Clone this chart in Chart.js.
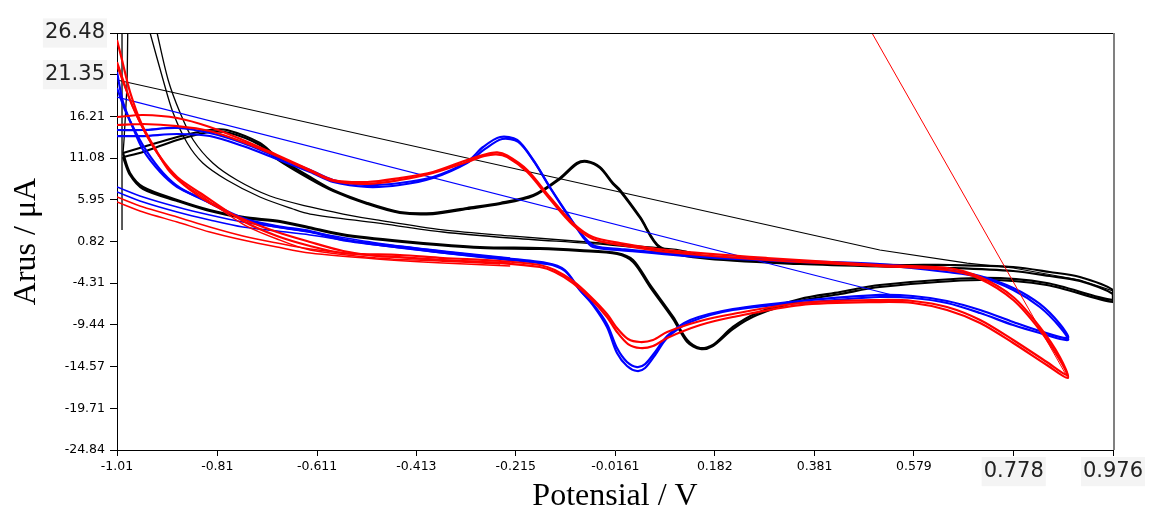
<!doctype html>
<html lang="en">
  <head>
    <meta charset="UTF-8" />
    <title>Voltamogram</title>
    <script src="https://cdn.jsdelivr.net/npm/chart.js"></script>
    <style>
      body { margin: 0; background: #fff; }
    </style>
  </head>
  <body>
    <canvas id="cvChart" width="1156" height="513"></canvas>

    <script>
      // sumbu
      const xTickValues = [-1.01, -0.81, -0.611, -0.413, -0.215, -0.0161, 0.182, 0.381, 0.579, 0.778, 0.976];
      const xTickLabels = ["-1.01", "-0.81", "-0.611", "-0.413", "-0.215", "-0.0161", "0.182", "0.381", "0.579", "0.778", "0.976"];
      const yTickValues = [-24.84, -19.71, -14.57, -9.44, -4.31, 0.82, 5.95, 11.08, 16.21, 21.35, 26.48];
      const yTickLabels = ["-24.84", "-19.71", "-14.57", "-9.44", "-4.31", "0.82", "5.95", "11.08", "16.21", "21.35", "26.48"];

      // elektroda merah
      const redCycle1 = [
        [-1.010, 25.62], [-1.000, 23.16], [-0.984, 19.22], [-0.960, 15.16], [-0.930, 11.84], [-0.904, 9.37],
        [-0.864, 7.16], [-0.825, 5.56], [-0.759, 3.59], [-0.691, 1.99], [-0.625, 0.76], [-0.559, -0.35],
        [-0.492, -0.96], [-0.446, -1.09], [-0.360, -1.46], [-0.246, -1.83], [-0.167, -2.32], [-0.137, -2.93],
        [-0.101, -4.29], [-0.067, -6.13], [-0.033, -8.47], [-0.013, -10.32], [0.009, -11.80], [0.033, -12.29],
        [0.059, -12.04], [0.087, -11.05], [0.153, -9.46], [0.218, -8.47], [0.352, -7.00], [0.511, -6.63],
        [0.577, -6.75], [0.645, -7.61], [0.711, -9.21], [0.777, -11.67], [0.844, -14.38], [0.886, -15.98],
        [0.870, -13.39], [0.830, -9.70], [0.777, -6.01], [0.711, -3.55], [0.645, -2.44], [0.511, -2.07],
        [0.286, -1.21], [0.087, -0.23], [-0.007, 0.64], [-0.061, 1.37], [-0.101, 3.10], [-0.147, 6.30],
        [-0.192, 9.62], [-0.232, 11.40], [-0.252, 11.78], [-0.275, 11.55], [-0.312, 10.85], [-0.380, 9.37],
        [-0.446, 8.63], [-0.511, 8.14], [-0.579, 8.39], [-0.625, 9.62], [-0.691, 11.47], [-0.759, 13.31],
        [-0.825, 14.91], [-0.890, 16.02], [-0.958, 16.39], [-1.010, 16.14],
      ];
      const redCycle2 = [
        [-1.010, 22.91], [-0.998, 20.70], [-0.980, 17.62], [-0.954, 14.30], [-0.924, 11.22], [-0.890, 8.76],
        [-0.844, 6.79], [-0.759, 3.34], [-0.691, 1.50], [-0.625, 0.27], [-0.559, -0.60], [-0.446, -0.84],
        [-0.360, -1.21], [-0.246, -1.58], [-0.167, -2.07], [-0.137, -2.69], [-0.101, -4.04], [-0.067, -5.89],
        [-0.033, -8.10], [-0.013, -9.83], [0.009, -11.18], [0.033, -11.55], [0.059, -11.30], [0.087, -10.32],
        [0.153, -8.97], [0.218, -8.10], [0.352, -6.75], [0.511, -6.38], [0.577, -6.50], [0.645, -7.24],
        [0.711, -8.84], [0.777, -11.30], [0.844, -14.01], [0.884, -15.61],
        [0.870, -13.76], [0.830, -10.07], [0.777, -6.38], [0.711, -3.79], [0.645, -2.69], [0.511, -2.20],
        [0.286, -1.46], [0.087, -0.47], [-0.007, 0.39], [-0.061, 1.13], [-0.101, 2.85], [-0.147, 6.05],
        [-0.192, 9.37], [-0.232, 11.22], [-0.254, 11.55], [-0.277, 11.35], [-0.312, 10.61], [-0.380, 9.25],
        [-0.446, 8.39], [-0.511, 7.90], [-0.579, 8.27], [-0.625, 9.50], [-0.691, 11.34], [-0.759, 13.07],
        [-0.825, 14.42], [-0.890, 15.03], [-0.958, 15.28], [-1.010, 15.16],
      ];
      const redSteep = [
        [-1.010, 22.42], [-0.996, 20.08], [-0.976, 17.00], [-0.950, 13.68], [-0.918, 10.61], [-0.884, 8.27],
        [-0.835, 6.17], [-0.759, 2.97], [-0.691, 1.13], [-0.625, -0.23], [-0.492, -1.21], [-0.360, -1.60],
        [-0.246, -1.95],
      ];
      const redTail1 = [
        [-1.010, 6.30], [-0.958, 5.07], [-0.890, 3.84], [-0.825, 2.60], [-0.759, 1.50], [-0.691, 0.64],
        [-0.625, -0.10], [-0.492, -0.96], [-0.360, -1.46], [-0.226, -1.83],
      ];
      const redTail2 = [
        [-1.010, 5.68], [-0.958, 4.45], [-0.890, 3.22], [-0.825, 1.99], [-0.759, 1.00], [-0.691, 0.14],
        [-0.625, -0.60], [-0.492, -1.33], [-0.360, -1.83], [-0.226, -2.20],
      ];
      const redDiagonal = [[0.40, 36.85], [0.886, -15.98]];

      // elektroda biru
      const blueCycle1 = [
        [-1.010, 21.68], [-0.998, 17.99], [-0.978, 14.79], [-0.958, 12.08], [-0.924, 9.37], [-0.890, 7.53],
        [-0.844, 6.17], [-0.759, 3.72], [-0.691, 2.73], [-0.625, 2.11], [-0.551, 1.00], [-0.420, 0.02],
        [-0.286, -0.96], [-0.153, -1.83], [-0.117, -2.69], [-0.087, -5.15], [-0.061, -7.00], [-0.033, -9.70],
        [-0.013, -12.90], [0.007, -14.50], [0.027, -15.12], [0.043, -14.75], [0.063, -13.15], [0.087, -11.05],
        [0.133, -9.09], [0.218, -7.61], [0.352, -6.75], [0.511, -6.01], [0.577, -6.13], [0.645, -6.75],
        [0.711, -7.98], [0.777, -9.46], [0.830, -10.44], [0.886, -11.30],
        [0.870, -9.70], [0.830, -7.24], [0.777, -5.15], [0.711, -3.55], [0.645, -2.93], [0.511, -2.07],
        [0.352, -1.70], [0.153, -1.09], [-0.007, -0.23], [-0.061, 0.14], [-0.081, 1.37], [-0.113, 4.33],
        [-0.147, 7.53], [-0.180, 10.85], [-0.212, 13.31], [-0.246, 13.68], [-0.280, 12.45], [-0.312, 10.61],
        [-0.380, 8.76], [-0.446, 8.02], [-0.511, 7.77], [-0.579, 8.39], [-0.625, 9.62], [-0.691, 11.22],
        [-0.759, 12.94], [-0.825, 14.17], [-0.890, 14.79], [-0.958, 14.54], [-1.010, 14.54],
      ];
      const blueCycle2 = [
        [-1.010, 19.71], [-0.994, 17.00], [-0.974, 14.42], [-0.950, 11.84], [-0.918, 9.25], [-0.884, 7.40],
        [-0.825, 5.56], [-0.759, 3.59], [-0.691, 2.60], [-0.625, 1.99], [-0.551, 0.88], [-0.420, -0.10],
        [-0.286, -1.09], [-0.153, -1.95], [-0.117, -2.81], [-0.087, -5.15], [-0.061, -6.87], [-0.033, -9.33],
        [-0.013, -12.29], [0.007, -14.01], [0.027, -14.63], [0.043, -14.26], [0.063, -12.78], [0.087, -10.81],
        [0.133, -8.84], [0.218, -7.49], [0.352, -6.50], [0.511, -5.76], [0.577, -5.89], [0.645, -6.50],
        [0.711, -7.61], [0.777, -9.09], [0.830, -10.20], [0.886, -11.05],
        [0.870, -9.33], [0.830, -6.87], [0.777, -4.90], [0.711, -3.43], [0.645, -2.69], [0.511, -1.95],
        [0.352, -1.58], [0.153, -0.96], [-0.007, -0.10], [-0.057, 0.27], [-0.077, 1.25], [-0.111, 4.08],
        [-0.145, 7.28], [-0.178, 10.61], [-0.210, 13.07], [-0.242, 13.44], [-0.276, 12.21], [-0.312, 10.48],
        [-0.380, 8.63], [-0.446, 7.77], [-0.511, 7.53], [-0.579, 8.14], [-0.625, 9.37], [-0.691, 10.97],
        [-0.759, 12.57], [-0.825, 13.80], [-0.890, 14.05], [-0.958, 13.80], [-1.010, 13.80],
      ];
      const blueTail1 = [
        [-1.010, 7.53], [-0.958, 6.30], [-0.890, 5.07], [-0.825, 4.08], [-0.759, 3.22], [-0.691, 2.60],
        [-0.625, 1.99], [-0.492, 0.64], [-0.360, -0.35], [-0.226, -1.21],
      ];
      const blueTail2 = [
        [-1.010, 6.91], [-0.958, 5.68], [-0.890, 4.45], [-0.825, 3.47], [-0.759, 2.60], [-0.691, 2.11],
        [-0.625, 1.62], [-0.492, 0.39], [-0.360, -0.60], [-0.226, -1.46],
      ];
      const blueDiagonal = [[-1.010, 18.60], [0.551, -6.01]];

      // elektroda hitam
      const blackCycle1 = [
        [-0.998, 11.71], [-0.958, 12.45], [-0.890, 13.68], [-0.825, 14.54], [-0.791, 14.54], [-0.725, 12.94],
        [-0.691, 11.22], [-0.625, 8.76], [-0.579, 7.16], [-0.511, 5.56], [-0.446, 4.45], [-0.380, 4.33],
        [-0.312, 4.94], [-0.246, 5.56], [-0.180, 6.54], [-0.127, 8.63], [-0.093, 10.48], [-0.073, 10.73],
        [-0.047, 9.99], [-0.021, 8.02], [-0.007, 7.16], [0.033, 3.84], [0.073, 0.14], [0.153, -1.09],
        [0.352, -1.83], [0.551, -2.07], [0.651, -2.07], [0.777, -2.32], [0.850, -2.93], [0.910, -3.55],
        [0.976, -5.15],
        [0.976, -6.38], [0.844, -4.29], [0.711, -3.67], [0.511, -4.53], [0.432, -5.40], [0.352, -6.25],
        [0.266, -7.98], [0.218, -9.70], [0.178, -11.92], [0.153, -12.29], [0.127, -11.30], [0.099, -8.47],
        [0.053, -4.53], [0.019, -1.46], [-0.013, -0.60], [-0.087, -0.23], [-0.167, 0.02], [-0.286, 0.14],
        [-0.420, 0.76], [-0.551, 1.62], [-0.619, 2.48], [-0.685, 3.34], [-0.759, 3.84], [-0.825, 4.70],
        [-0.890, 5.93], [-0.958, 7.53], [-0.984, 9.25], [-0.998, 11.71],
      ];
      const blackCycle2 = [
        [-0.998, 11.22], [-0.958, 11.84], [-0.890, 13.31], [-0.825, 14.30], [-0.785, 14.17], [-0.725, 12.70],
        [-0.691, 10.97], [-0.625, 8.51], [-0.579, 7.04], [-0.511, 5.44], [-0.446, 4.33], [-0.380, 4.20],
        [-0.312, 4.82], [-0.246, 5.44], [-0.180, 6.42], [-0.127, 8.51], [-0.093, 10.36], [-0.073, 10.61],
        [-0.047, 9.87], [-0.021, 7.90], [-0.007, 7.04], [0.033, 3.72], [0.073, 0.02], [0.153, -1.21],
        [0.352, -1.95], [0.551, -2.32], [0.651, -2.44], [0.777, -2.81], [0.850, -3.43], [0.910, -4.04],
        [0.976, -5.64],
        [0.976, -6.63], [0.844, -4.53], [0.711, -3.92], [0.511, -4.78], [0.432, -5.64], [0.352, -6.50],
        [0.266, -8.23], [0.218, -9.95], [0.178, -12.04], [0.153, -12.41], [0.127, -11.55], [0.099, -8.72],
        [0.053, -4.78], [0.019, -1.70], [-0.013, -0.72], [-0.087, -0.35], [-0.167, -0.10], [-0.286, 0.02],
        [-0.420, 0.64], [-0.551, 1.50], [-0.619, 2.36], [-0.685, 3.22], [-0.759, 3.72], [-0.825, 4.57],
        [-0.890, 5.81], [-0.958, 7.28], [-0.984, 9.00], [-0.998, 11.22],
      ];
      const blackDecayA = [
        [-0.962, 30.54], [-0.944, 26.48], [-0.918, 20.70], [-0.898, 16.63], [-0.870, 12.94], [-0.839, 10.48],
        [-0.791, 8.39], [-0.725, 6.30], [-0.659, 4.82], [-0.625, 4.20], [-0.492, 3.10], [-0.360, 1.99],
        [-0.226, 1.25], [-0.027, 0.39], [0.113, -0.47], [0.153, -0.96],
      ];
      const blackDecayB = [
        [-0.944, 30.54], [-0.930, 26.48], [-0.908, 20.70], [-0.884, 16.63], [-0.858, 13.31], [-0.819, 10.48],
        [-0.771, 8.39], [-0.705, 6.42], [-0.625, 5.07], [-0.559, 4.20], [-0.492, 3.47], [-0.360, 2.24],
        [-0.226, 1.50], [-0.021, 0.51], [0.113, -0.23], [0.153, -0.84],
      ];
      const blackSpike1 = [[-1.000, 2.24], [-1.000, 30.54]];
      const blackSpike2 = [[-0.988, 30.54], [-0.990, 20.33], [-0.996, 13.31], [-0.998, 11.71]];
      const blackDiagonal = [
        [-1.010, 20.70], [0.511, -0.23], [0.685, -1.83], [0.777, -2.44], [0.910, -3.92], [0.976, -5.27],
      ];

      const pts = (arr) => arr.map(([x, y]) => ({ x, y }));

      function line(data, color, width, tension) {
        return {
          data: pts(data),
          showLine: true,
          borderColor: color,
          backgroundColor: color,
          borderWidth: width,
          pointRadius: 0,
          tension: tension,
          fill: false,
        };
      }

      const framePlugin = {
        id: "frame",
        afterDraw(chart) {
          const { ctx, chartArea: a } = chart;
          ctx.save();
          ctx.strokeStyle = "#000";
          ctx.lineWidth = 1;
          ctx.beginPath();
          ctx.moveTo(a.left, a.top + 0.5);
          ctx.lineTo(a.right, a.top + 0.5);
          ctx.stroke();
          ctx.strokeStyle = "#808080";
          ctx.lineWidth = 2;
          ctx.beginPath();
          ctx.moveTo(a.right + 1, a.top);
          ctx.lineTo(a.right + 1, a.bottom);
          ctx.stroke();
          ctx.restore();
        },
      };

      const smallFont = { family: "DejaVu Sans", size: 12.5 };
      const bigFont = { family: "DejaVu Sans", size: 21 };
      const titleFont = { family: "Liberation Serif", size: 32, lineHeight: 1 };

      new Chart(document.getElementById("cvChart"), {
        type: "scatter",
        data: {
          datasets: [
            line(redDiagonal, "#ff0000", 1, 0),
            line(redCycle1, "#ff0000", 2.2, 0.3),
            line(redCycle2, "#ff0000", 2.2, 0.3),
            line(redSteep, "#ff0000", 1.5, 0.3),
            line(redTail1, "#ff0000", 1.5, 0.3),
            line(redTail2, "#ff0000", 1.5, 0.3),
            line(blueDiagonal, "#0000ff", 1.2, 0),
            line(blueCycle1, "#0000ff", 2.2, 0.3),
            line(blueCycle2, "#0000ff", 2.2, 0.3),
            line(blueTail1, "#0000ff", 1.5, 0.3),
            line(blueTail2, "#0000ff", 1.5, 0.3),
            line(blackDiagonal, "#000000", 1.2, 0),
            line(blackCycle1, "#000000", 2.2, 0.3),
            line(blackCycle2, "#000000", 2.2, 0.3),
            line(blackDecayA, "#000000", 1.3, 0.3),
            line(blackDecayB, "#000000", 1.3, 0.3),
            line(blackSpike1, "#000000", 1.3, 0),
            line(blackSpike2, "#000000", 1.3, 0.2),
          ],
        },
        options: {
          responsive: false,
          animation: false,
          devicePixelRatio: 1,
          layout: { padding: { left: 0, right: 43, top: 33, bottom: 0 } },
          plugins: { legend: { display: false }, tooltip: { enabled: false } },
          scales: {
            x: {
              type: "linear",
              min: -1.01,
              max: 0.976,
              afterFit: (scale) => { scale.height = 63; },
              afterBuildTicks: (scale) => { scale.ticks = xTickValues.map((v) => ({ value: v })); },
              grid: { drawOnChartArea: false, drawTicks: true, tickLength: 6, color: "#000" },
              border: { display: true, color: "#000", width: 1 },
              ticks: {
                autoSkip: false,
                maxRotation: 0,
                padding: 3,
                color: (ctx) => (ctx.index >= 9 ? "#222" : "#000"),
                font: (ctx) => (ctx.index >= 9 ? bigFont : smallFont),
                showLabelBackdrop: (ctx) => ctx.index >= 9,
                backdropColor: "#f4f4f4",
                backdropPadding: 2,
                callback: (v, i) => xTickLabels[i],
              },
              title: {
                display: true,
                text: "Potensial / V",
                color: "#000",
                font: titleFont,
                padding: { top: 0, bottom: 0 },
              },
            },
            y: {
              type: "linear",
              min: -24.84,
              max: 26.48,
              afterFit: (scale) => { scale.width = 117; },
              afterBuildTicks: (scale) => { scale.ticks = yTickValues.map((v) => ({ value: v })); },
              grid: { drawOnChartArea: false, drawTicks: true, tickLength: 7, color: "#000" },
              border: { display: true, color: "#000", width: 1 },
              ticks: {
                autoSkip: false,
                padding: 5,
                color: (ctx) => (ctx.index >= 9 ? "#222" : "#000"),
                font: (ctx) => (ctx.index >= 9 ? bigFont : smallFont),
                showLabelBackdrop: (ctx) => ctx.index >= 9,
                backdropColor: "#f4f4f4",
                backdropPadding: 2,
                callback: (v, i) => yTickLabels[i],
              },
              title: {
                display: true,
                text: "Arus / μA",
                color: "#000",
                font: titleFont,
                padding: { top: 11, bottom: 0 },
              },
            },
          },
        },
        plugins: [framePlugin],
      });
    </script>
  </body>
</html>
